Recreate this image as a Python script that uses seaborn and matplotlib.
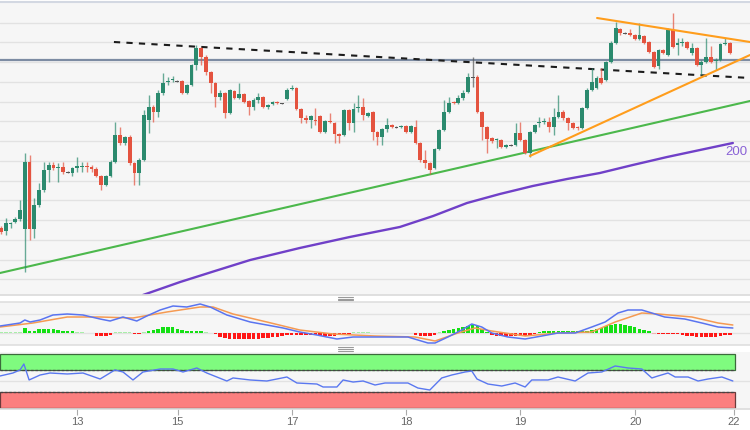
import matplotlib
matplotlib.use("Agg")
import matplotlib.pyplot as plt
from matplotlib.lines import Line2D
from matplotlib.patches import Rectangle
import numpy as np
import pandas as pd
import seaborn as sns

sns.set_theme(style="white")
plt.rcParams["font.family"] = ["Liberation Sans", "DejaVu Sans"]

# ---------------- data (hourly candles, arbitrary price units) ----------------
opens = [72,69,76,78,81,71,138,71,95,110,
         130,135,132,133,128,127,132,133,134,133,
         131,124,115,124,138,165,157,163,137,127,
         140,180,193,188,207,218,220,219,219,207,
         215,235,252,243,228,217,203,207,187,209,
         202,206,199,193,200,203,193,196,198,197,
         201,211,212,191,182,180,180,184,168,179,
         177,166,165,190,177,192,193,184,188,168,
         163,171,175,173,173,174,168,173,157,140,
         137,132,151,170,188,198,197,202,208,223,
         223,188,173,162,160,160,153,155,155,167,
         160,147,168,177,178,178,173,183,188,182,
         177,173,172,192,210,212,222,220,238,257,
         271,267,267,265,261,264,258,248,234,250,
         245,270,255,257,258,247,252,235,238,243,
         239,240,256,257]
closes = [68,77,77,81,90,138,71,95,110,130,
          135,132,133,128,128,132,134,134,133,131,
          124,115,124,138,165,157,163,137,127,140,
          185,193,188,207,217,219,221,219,207,215,
          235,252,243,228,217,203,207,187,210,202,
          206,198,193,200,203,193,195,198,197,197,
          210,212,191,182,180,184,179,168,179,178,
          166,164,190,177,191,193,185,187,168,163,
          171,175,173,173,174,168,174,157,140,137,
          130,151,170,188,197,197,202,207,223,223,
          188,173,161,159,161,153,155,155,167,160,
          147,168,175,178,179,173,183,188,182,177,
          172,172,192,210,218,222,217,238,257,272,
          267,267,265,261,265,257,248,233,250,247,
          270,253,257,258,252,252,235,238,243,238,
          240,256,257,247]
highs = [74,82,78,83,100,147,145,102,117,138,
         138,138,137,138,129,133,143,138,138,135,
         133,125,125,140,178,173,164,165,138,142,
         190,205,195,210,227,223,224,220,220,216,
         236,255,253,245,229,218,210,208,211,210,
         217,207,200,202,207,204,196,199,199,197.5,
         212,215,213,192,185,185,192,185,180,187,
         178,167,191,191,197,205,202,188,189,169,
         172,182,176,174,175,175,175,180,158,150,
         138,152,171,200,203,199,205,210,227,243,
         225,189,174,163,162,161,156,156,177,178,
         161,169,176,183,182,183,192,205,190,183,
         178,174,193,212,232,224,232,239,259,278,
         272,268,271,266,277,265,259,249,251,251,
         272,287,262,262,259,257,253,240,262,254,
         242,257,262,258]
lows = [66,65,72,77,79,28,60,62,93,108,
        118,130,118,126,127,124,128,128,128,128,
        123,110,114,123,137,155,155,135,115,115,
        139,167,178,183,205,215,218,218,206,206,
        214,230,235,225,207,193,200,182,186,201,
        201,197,185,190,197,192,191,195,196,196.5,
        200,210,190,177,177,172,175,167,167,177,
        157,157,164,170,168,188,180,183,160,155,
        155,168,172,172,172,167,167,156,138,132,
        126,131,150,169,187,196,196,200,207,213,
        187,160,147,157,152,152,152,154,154,159,
        146,143,167,173,176,168,165,182,180,170,
        171,170,171,191,209,211,216,219,237,256,
        265,266,264,260,260,256,247,232,231,246,
        244,252,245,254,251,245,234,225,237,237,
        230,239,255,246]

# 200-period SMA readings (candle index, value)
sma_x = [29.8, 37.6, 44.9, 52.3, 62.7, 73.2, 83.7, 90.7, 97.8, 104.7,
         111.6, 118.8, 125.7, 132.6, 139.8, 146.7, 153.6]
sma_y = [5, 18, 29, 40, 52, 63, 73, 84, 97, 106,
         114, 121, 127, 135, 143, 150, 157]

# drawn studies (candle index, price)
level_price = 240
green_tl_x, green_tl_y = [-0.21, 157.2], [27, 199]
dash_tl_x, dash_tl_y = [23.7, 157.2], [258, 222]
orange_up_x, orange_up_y = [125.1, 157.2], [282, 258]
orange_lo_x, orange_lo_y = [111.0, 157.2], [144, 245]

# MACD
macd_x = [-0.2, 4.0, 5.0, 6.1, 8.2, 10.9, 13.9, 17.2, 20.8, 22.9, 25.6, 28.5, 30.6,
          33.4, 36.1, 39.0, 41.8, 43.9, 47.4, 52.3, 55.8, 59.2, 62.7, 66.3, 70.5,
          73.9, 78.5, 85.4, 89.6, 91.1, 93.8, 96.7, 98.8, 100.9, 103.0, 106.4,
          110.0, 113.5, 116.9, 120.5, 124.0, 126.8, 129.5, 131.6, 134.5, 136.6,
          139.3, 143.5, 147.1, 150.5, 153.6]
macd_y = [6.7, 9.7, 12.7, 10.7, 12.7, 17.7, 18.7, 17.7, 13.7, 11.7, 15.7, 11.7, 16.7,
          22.7, 26.7, 25.7, 28.7, 25.7, 17.7, 10.7, 7.7, 4.7, 0.7, -2.3, -6.3,
          -4.3, -4.3, -4.3, -10.3, -10.3, -4.3, 2.7, 8.7, 5.7, -0.3, -4.3,
          -6.3, -3.3, -0.3, -0.3, 5.7, 10.7, 19.7, 22.7, 22.7, 19.7,
          15.7, 13.7, 9.7, 5.7, 4.7]
signal_x = [-0.2, 6.7, 13.9, 20.8, 27.7, 34.8, 41.8, 44.5, 48.7, 55.8, 62.7, 69.7,
            78.5, 86.9, 91.1, 95.9, 99.5, 103.0, 110.0, 116.9, 124.0, 128.9,
            134.5, 137.9, 145.0, 150.5, 153.6]
signal_y = [5.7, 9.7, 15.7, 15.7, 14.7, 20.7, 25.7, 25.7, 18.7, 10.7, 2.7, -1.3,
            -3.3, -4.3, -8.3, -0.3, 4.7, 1.7, -3.3, -0.3, 0.7, 10.7,
            19.7, 18.7, 15.7, 9.7, 7.7]
macd_hist = [0.7, 0.7, 0.7, 0.7, 0.7, 5, 2, 2, 3.5, 3.5,
             3.5, 3.5, 3, 1.5, 1.5, 1.5, 0.5, 0.5, -0.3, -0.3,
             -3, -3, -3, -2.5, 0.4, 0.4, 0.4, 0.3, -1.5, -1.5,
             0.3, 2, 3, 4, 5.5, 5.5, 5.5, 4, 2.5, 2,
             2, 2, 1.5, 0.3, -0.3, -1.5, -4, -5, -6, -6,
             -6, -6, -6, -6, -6, -5.5, -5, -4.5, -4, -3.5,
             -2.5, -2, -2.5, -2.5, -2.5, -2.5, -2.5, -3, -3, -3,
             -3, -2.5, -2, -1, 0.7, 0.7, 0.7, 0.7, -0.5, -0.7,
             -0.7, -0.7, -0.7, -0.7, -0.7, -0.7, -0.7, -2.5, -3, -3,
             -3, -2.5, 0.5, 1.5, 3, 4, 5, 6, 7, 7.7,
             6.5, 4, 1, -2.5, -3.5, -3.5, -3.5, -3.5, -3, -3,
             -3, -2.5, -1, 1, 1.5, 2, 2, 2, 1.5, 1.5,
             1.5, 1.5, 1.5, 2, 2.5, 4, 5, 6.5, 7.7, 8.4,
             8.4, 7.5, 6.5, 5.5, 4, 3, 1.5, -0.8, -1, -1,
             -1, -1, -1.7, -2.3, -3, -3.3, -3.8, -4.3, -4.5, -4.3,
             -4, -3.5, -2.7, -2]

# RSI
rsi_x = [-0.2, 2.5, 4.0, 4.8, 5.9, 8.2, 10.3, 13.9, 17.2, 20.8, 23.9, 25.6, 27.7,
         29.8, 33.4, 36.1, 38.2, 41.1, 43.2, 45.3, 47.4, 48.7, 52.3, 55.8, 60.0,
         62.1, 66.3, 67.6, 70.5, 71.8, 73.9, 76.0, 78.5, 80.6, 85.4, 87.5, 90.0,
         92.5, 94.6, 97.4, 98.8, 99.9, 102.2, 105.1, 107.9, 110.0, 111.4, 114.8,
         116.9, 120.5, 123.2, 126.1, 128.9, 131.6, 134.5, 136.6, 137.9, 140.0,
         141.5, 144.2, 146.3, 148.4, 151.3, 153.6]
rsi_y = [59.3, 64.8, 70.4, 81.5, 51.9, 61.1, 64.8, 63.0, 64.8, 53.7, 70.4, 66.7, 51.9,
         66.7, 72.2, 72.2, 66.7, 74.1, 64.8, 57.4, 50.0, 55.6, 51.9, 50.0, 57.4,
         46.3, 44.4, 38.9, 38.9, 51.9, 48.1, 50.0, 42.6, 46.3, 46.3, 37.0, 33.3,
         55.6, 61.1, 66.7, 68.5, 53.7, 44.4, 40.7, 46.3, 38.9, 51.9, 51.9,
         57.4, 50.0, 64.8, 66.7, 77.8, 74.1, 72.2, 55.6, 59.3, 64.8,
         57.4, 57.4, 50.0, 53.7, 57.4, 50.0]
rsi_upper, rsi_lower = 70, 30
rsi_band_end = 154.0

tick_pos = [15.95, 37.1, 61.1, 85.0, 109.0, 133.1, 153.8]
tick_labels = ["13", "15", "17", "18", "19", "20", "22"]

# ---------------- styling ----------------
GREEN = "#2b8a6e"
RED = "#e4533f"
DOJI = "#555555"
PANEL = "#f6f6f6"
GRID = "#e2e2e2"
XMIN, XMAX = -0.21, 157.2

fig = plt.figure(figsize=(7.5, 4.3), dpi=100)
fig.patch.set_facecolor("white")
H = 430.0


def box(top, bottom):
    return [0, 1 - bottom / H, 1, (bottom - top) / H]


ax = fig.add_axes(box(2, 295))
axm = fig.add_axes(box(302, 345), sharex=ax)
axr = fig.add_axes(box(352, 409), sharex=ax)

for a in (ax, axm, axr):
    a.set_facecolor(PANEL)
    for s in a.spines.values():
        s.set_visible(False)
    a.tick_params(left=False, labelleft=False, bottom=False, labelbottom=False)
    a.grid(False)

# ---- main panel ----
ax.set_xlim(XMIN, XMAX)
ax.set_ylim(5, 298)
ax.set_yticks([277.3 - 19.75 * k for k in range(14)])
ax.yaxis.grid(True, color=GRID, lw=1)
ax.set_axisbelow(True)
ax.spines["top"].set_visible(True)
ax.spines["top"].set_color("#d3d8e2")
ax.spines["top"].set_linewidth(1.5)
ax.spines["bottom"].set_visible(True)
ax.spines["bottom"].set_color("#dcdcdc")

df = pd.DataFrame(dict(i=np.arange(len(opens)), o=opens, h=highs, l=lows, c=closes))
colors = np.where(df.c > df.o, GREEN, np.where(df.c < df.o, RED, DOJI))
ax.axhline(level_price, color="#7d8ca3", lw=1.6, zorder=2)

sns.lineplot(x=green_tl_x, y=green_tl_y, ax=ax, color="#4cb84c", lw=1.5, zorder=2)
sns.lineplot(x=sma_x, y=sma_y, ax=ax, color="#7040c8", lw=1.7, zorder=2)
sns.lineplot(x=dash_tl_x, y=dash_tl_y, ax=ax, color="#1c1c1c", lw=1.5,
             linestyle=(0, (3, 3)), zorder=2)

ax.vlines(df.i, df.l, df.h, colors=colors, lw=1, alpha=0.7, zorder=3)
body_h = np.maximum(np.abs(df.c - df.o), 1.0)
body_lo = np.where(np.abs(df.c - df.o) < 1, np.minimum(df.o, df.c) - 0.5, np.minimum(df.o, df.c))
ax.bar(df.i, body_h, bottom=body_lo, width=0.8, color=colors, lw=0, zorder=4)

sns.lineplot(x=orange_up_x, y=orange_up_y, ax=ax, color="#ff9d1c", lw=1.5, zorder=5)
sns.lineplot(x=orange_lo_x, y=orange_lo_y, ax=ax, color="#ff9d1c", lw=1.5, zorder=5)
ax.text(152.0, 148, "200", color="#8a62d6", fontsize=9.5, ha="left", va="center", zorder=6)
ax.set_xlabel("")
ax.set_ylabel("")

# ---- MACD panel ----
axm.set_ylim(-12.3, 30.7)
axm.set_yticks([0, 18.7])
axm.yaxis.grid(True, color=GRID, lw=1)
axm.set_axisbelow(True)
for s in ("top", "bottom"):
    axm.spines[s].set_visible(True)
    axm.spines[s].set_color("#e0e0e0")
hist = np.array(macd_hist)
hcol = np.where(hist >= 0, np.where(hist < 1, "#a9eea9", "#14e014"),
                np.where(hist > -1, "#f4b0b0", "#ff1717"))
axm.bar(np.arange(len(hist)), hist, width=0.75, color=hcol, lw=0, zorder=2)
sns.lineplot(x=signal_x, y=signal_y, ax=axm, color="#f59a52", lw=1.1, zorder=3)
sns.lineplot(x=macd_x, y=macd_y, ax=axm, color="#5a74f0", lw=1.1, zorder=4)
axm.set_xlabel("")
axm.set_ylabel("")

# ---- RSI panel ----
axr.set_ylim(-1.85, 103.7)
axr.set_yticks([50])
axr.yaxis.grid(True, color=GRID, lw=1)
axr.set_axisbelow(True)
axr.add_patch(Rectangle((XMIN, rsi_upper), rsi_band_end - XMIN, 100 - rsi_upper,
                        fc="#7ffb7f", ec="#3b6b3b", lw=0.9, zorder=1))
axr.add_patch(Rectangle((XMIN, 0), rsi_band_end - XMIN, rsi_lower,
                        fc="#fb7f7f", ec="#6b3b3b", lw=0.9, zorder=1))
axr.hlines([rsi_upper, rsi_lower], XMIN, rsi_band_end, colors="#444444", lw=0.9,
           linestyles=(0, (2, 1.5)), zorder=2)
sns.lineplot(x=rsi_x, y=rsi_y, ax=axr, color="#5a78f0", lw=1, zorder=3)
axr.set_xlabel("")
axr.set_ylabel("")
axr.spines["bottom"].set_visible(True)
axr.spines["bottom"].set_color("#dddddd")
axr.set_xticks(tick_pos)
axr.set_xticklabels(tick_labels)
axr.tick_params(bottom=True, labelbottom=True, length=4, width=0.8, color="#aaaaaa",
                labelcolor="#666666", labelsize=8, pad=2)
axr.set_xlim(XMIN, XMAX)

# panel resize handles
for yc in (298.5, 349.0):
    for dy in (-1.8, 0, 1.8):
        fig.add_artist(Line2D([338 / 750, 353 / 750], [1 - (yc + dy) / H] * 2,
                              color="#9a9a9a", lw=0.8))

fig.savefig("out.png", dpi=100, facecolor="white")
